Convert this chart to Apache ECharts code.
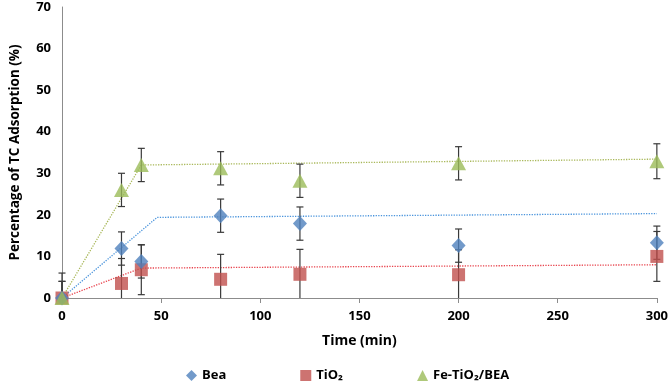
<!DOCTYPE html>
<html>
<head>
<meta charset="utf-8">
<script src="https://cdn.jsdelivr.net/npm/echarts@6/dist/echarts.min.js"></script>
<style>
  html, body { margin: 0; padding: 0; background: #fff; }
  #chart { width: 671px; height: 384px; }
</style>
</head>
<body>
<div id="chart"></div>
<script>
// sampling times (min)
var timeMin = [0, 30, 40, 80, 120, 200, 300];

// adsorption (%) per material
var beaValues = [0, 11.9, 8.8, 19.8, 17.9, 12.6, 13.3];
var tioValues = [0, 3.5, 6.8, 4.5, 5.7, 5.6, 10.0];
var feValues  = [0, 26.0, 32.0, 31.2, 28.2, 32.4, 32.9];

// error bar half widths
var beaErr = [4, 4, 4, 4, 4, 4, 4];
var tioErr = [6, 6, 6, 6, 6, 6, 6];
var feErr  = [4, 4, 4, 4, 4, 4, 4.2];

// fitted curves (dotted)
var beaFitX = [0, 48, 300];
var beaFitY = [0, 19.4, 20.3];
var tioFitX = [0, 40, 300];
var tioFitY = [0, 7.2, 8.0];
var feFitX  = [0, 40, 300];
var feFitY  = [0, 32.0, 33.4];

var FONT = '"Open Sans"';

function pairs(xs, ys) {
    return xs.map(function (x, i) { return [x, ys[i]]; });
}

// 误差线
function errSeries(name, vals, errs) {
    return {
        name: name,
        type: 'custom',
        z: 3,
        data: timeMin.map(function (x, i) { return [x, vals[i] - errs[i], vals[i] + errs[i]]; }),
        renderItem: function (params, api) {
            var x = api.value(0);
            var lo = api.value(1);
            var hi = api.value(2);
            var loClipped = lo < 0;
            var pLo = api.coord([x, loClipped ? 0 : lo]);
            var pHi = api.coord([x, hi]);
            var w = 3.5;
            var st = { stroke: '#3a3a3a', lineWidth: 1.2 };
            var kids = [
                { type: 'line', shape: { x1: pLo[0], y1: pLo[1], x2: pHi[0], y2: pHi[1] }, style: st },
                { type: 'line', shape: { x1: pHi[0] - w, y1: pHi[1], x2: pHi[0] + w, y2: pHi[1] }, style: st }
            ];
            if (!loClipped) {
                kids.push({ type: 'line', shape: { x1: pLo[0] - w, y1: pLo[1], x2: pLo[0] + w, y2: pLo[1] }, style: st });
            }
            return { type: 'group', children: kids };
        }
    };
}

function fitSeries(name, xs, ys, color) {
    return {
        name: name,
        type: 'line',
        data: pairs(xs, ys),
        symbol: 'none',
        z: 2,
        lineStyle: { color: color, width: 1.3, type: 'dotted' },
        silent: true
    };
}

var chart = echarts.init(document.getElementById('chart'));
chart.setOption({
    backgroundColor: '#fff',
    animation: false,
    grid: { left: 59, right: 12, top: 7, bottom: 86 },
    legend: {
        data: [
            { name: 'Bea', icon: 'diamond' },
            { name: 'TiO₂', icon: 'rect' },
            { name: 'Fe-TiO₂/BEA', icon: 'triangle' }
        ],
        left: 181,
        top: 364,
        itemWidth: 11,
        itemHeight: 11,
        itemGap: 74,
        textStyle: { fontFamily: FONT, fontWeight: 'bold', fontSize: 13, color: '#000' }
    },
    xAxis: {
        type: 'value',
        min: 0,
        max: 300,
        interval: 50,
        name: 'Time (min)',
        nameLocation: 'middle',
        nameGap: 36,
        nameTextStyle: { fontFamily: FONT, fontWeight: 'bold', fontSize: 14, color: '#000' },
        axisLine: { lineStyle: { color: '#8c8c8c', width: 1 } },
        axisTick: { show: true, length: 5, lineStyle: { color: '#8c8c8c' } },
        axisLabel: { margin: 12, fontFamily: FONT, fontWeight: 'bold', fontSize: 13, color: '#000' },
        splitLine: { show: false }
    },
    yAxis: {
        type: 'value',
        min: 0,
        max: 70,
        interval: 10,
        name: 'Percentage of TC Adsorption (%)',
        nameLocation: 'middle',
        nameGap: 40,
        nameTextStyle: { fontFamily: FONT, fontWeight: 'bold', fontSize: 13.5, color: '#000' },
        axisLine: { show: true, lineStyle: { color: '#8c8c8c', width: 1 } },
        axisTick: { show: false },
        axisLabel: { margin: 11, fontFamily: FONT, fontWeight: 'bold', fontSize: 13, color: '#000' },
        splitLine: { show: false }
    },
    series: [
        fitSeries('fitTio', tioFitX, tioFitY, '#e8444e'),
        fitSeries('fitBea', beaFitX, beaFitY, '#4a94dc'),
        fitSeries('fitFe', feFitX, feFitY, '#a9b85a'),
        errSeries('errTio', tioValues, tioErr),
        errSeries('errBea', beaValues, beaErr),
        errSeries('errFe', feValues, feErr),
        {
            name: 'TiO₂', type: 'scatter', z: 4,
            symbol: 'rect', symbolSize: 13,
            itemStyle: { color: '#c0504d' },
            data: pairs(timeMin, tioValues)
        },
        {
            name: 'Bea', type: 'scatter', z: 4,
            symbol: 'diamond', symbolSize: [14, 15],
            itemStyle: { color: '#4f81bd' },
            data: pairs(timeMin, beaValues)
        },
        {
            name: 'Fe-TiO₂/BEA', type: 'scatter', z: 4,
            symbol: 'triangle', symbolSize: [15, 14],
            itemStyle: { color: '#9bbb59' },
            data: pairs(timeMin, feValues)
        }
    ]
});
</script>
</body>
</html>
